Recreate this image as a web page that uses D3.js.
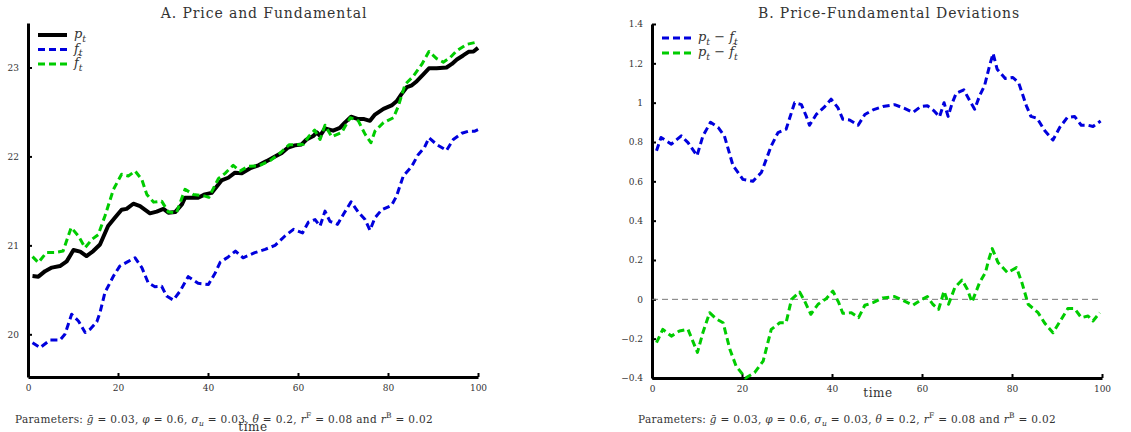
<!DOCTYPE html>
<html>
<head>
<meta charset="utf-8">
<script src="https://cdn.jsdelivr.net/npm/d3@7"></script>
<style>
  body { margin: 0; background: #fff; }
  svg text { font-family: "DejaVu Serif", serif; fill: #333; }
</style>
</head>
<body>
<div id="chart"></div>
<script>
// ---- Panel A: price p_t, fundamental f_t, perceived fundamental fhat_t ----
const priceTime = [1, 2.3, 3.8, 5.3, 7.1, 8.6, 10.1, 11.6, 13, 14.5, 16, 17.8, 19.3, 20.8, 21.9, 23.4, 24.9, 27.1, 28.6, 30.1, 31.2, 32.7, 34.2, 34.9, 37.8, 39.3, 40.8, 43, 44.5, 46, 47.5, 49.3, 51.2, 53, 54.9, 56.4, 57.8, 59.3, 60.8, 61.9, 63.4, 64.2, 64.9, 66, 67.8, 69.3, 70.4, 71.8, 73.4, 74.7, 76, 77.1, 79, 80.8, 81.9, 83, 84.2, 85.3, 86.4, 87.8, 89.1, 90.8, 93, 94.2, 95.3, 96.7, 97.9, 99, 100];
const price = [20.655, 20.648, 20.71, 20.75, 20.767, 20.82, 20.947, 20.93, 20.88, 20.936, 21.01, 21.217, 21.31, 21.4, 21.41, 21.468, 21.44, 21.36, 21.38, 21.41, 21.367, 21.374, 21.46, 21.536, 21.536, 21.573, 21.59, 21.73, 21.76, 21.817, 21.81, 21.865, 21.9, 21.947, 22.0, 22.04, 22.1, 22.124, 22.135, 22.19, 22.23, 22.27, 22.23, 22.315, 22.29, 22.32, 22.38, 22.446, 22.42, 22.42, 22.4, 22.47, 22.535, 22.573, 22.62, 22.7, 22.78, 22.8, 22.846, 22.92, 22.99, 22.99, 23.0, 23.04, 23.09, 23.135, 23.176, 23.18, 23.22];

const fundTime = [1, 2.7, 4.9, 7.1, 8.2, 9.7, 11.2, 12.7, 13.8, 15.3, 16, 17.1, 19, 20.4, 22.3, 23.8, 25.3, 26.7, 28.2, 29.7, 30.8, 32.3, 33.8, 35.6, 37.8, 40.1, 41.6, 42.7, 44.5, 46.1, 47.8, 50.4, 52.7, 54.9, 57.1, 59, 61, 62.3, 63.8, 64.9, 66, 67.1, 68.8, 70.1, 71.8, 73.4, 74.9, 76, 77.1, 78.6, 80.8, 81.9, 83.4, 85.3, 86.7, 88.1, 89.1, 90.8, 93, 94.5, 96.4, 97.9, 99.3, 100];
const fund = [19.906, 19.85, 19.936, 19.936, 20.0, 20.225, 20.15, 20.02, 20.056, 20.14, 20.244, 20.47, 20.655, 20.767, 20.82, 20.86, 20.75, 20.58, 20.535, 20.54, 20.43, 20.385, 20.486, 20.648, 20.573, 20.56, 20.69, 20.81, 20.87, 20.936, 20.86, 20.918, 20.955, 21.0, 21.105, 21.18, 21.14, 21.26, 21.29, 21.217, 21.385, 21.27, 21.236, 21.35, 21.49, 21.374, 21.29, 21.17, 21.31, 21.4, 21.45, 21.554, 21.78, 21.89, 22.02, 22.1, 22.21, 22.135, 22.067, 22.19, 22.26, 22.284, 22.284, 22.3];

const fhatTime = [1, 2.3, 4.1, 6, 7.8, 9.6, 11.2, 12.7, 14.2, 15.6, 17.1, 19, 20.8, 22.3, 23.8, 25.3, 26.4, 27.9, 29.7, 31.2, 33, 34.9, 36.7, 39.3, 40.2, 42.3, 43.8, 45.6, 47.1, 49, 51.3, 53.9, 56, 58, 59.7, 61.2, 62.4, 63.7, 64.9, 66, 67.5, 69.7, 71.6, 73.4, 74.9, 76.2, 77.1, 79, 81.2, 82.3, 83.8, 85.6, 87.5, 89.1, 90.8, 92.3, 93.8, 95.3, 97.5, 99.3, 100];
const fhat = [20.873, 20.806, 20.92, 20.92, 20.936, 21.2, 21.105, 20.974, 21.067, 21.12, 21.33, 21.63, 21.8, 21.78, 21.835, 21.74, 21.573, 21.486, 21.497, 21.374, 21.367, 21.63, 21.573, 21.554, 21.54, 21.75, 21.81, 21.9, 21.835, 21.89, 21.893, 21.956, 22.038, 22.13, 22.131, 22.136, 22.225, 22.296, 22.19, 22.35, 22.22, 22.27, 22.435, 22.4, 22.25, 22.154, 22.284, 22.38, 22.435, 22.565, 22.81, 22.9, 23.034, 23.18, 23.1, 23.06, 23.11, 23.19, 23.26, 23.28, 23.29];

// ---- Panel B: deviations ----
const devFTime = [1, 2, 4.3, 6.5, 8, 10, 11.3, 13, 14.7, 16.1, 18, 20.2, 22.4, 24.3, 26.5, 28, 29.8, 31.7, 33.2, 34.3, 35, 36.5, 38.4, 39.8, 41.3, 42.4, 43.9, 45.8, 47.3, 49.1, 51.3, 53.9, 56, 58, 59.7, 61.2, 62.7, 63.9, 64.9, 65.8, 66.7, 67.6, 69.3, 70.6, 71.7, 72.8, 73.9, 75, 75.8, 76.7, 78.5, 80.2, 81.5, 83.2, 84.2, 85.6, 87.3, 89.1, 90.6, 92.3, 93.9, 95.4, 96.9, 98, 99.7];
const devF = [0.755, 0.823, 0.789, 0.831, 0.797, 0.73, 0.83, 0.9, 0.874, 0.83, 0.68, 0.61, 0.6, 0.645, 0.78, 0.848, 0.865, 1.0, 0.99, 0.93, 0.885, 0.94, 0.98, 1.018, 0.975, 0.916, 0.912, 0.885, 0.94, 0.963, 0.98, 0.99, 0.972, 0.95, 0.98, 0.984, 0.958, 0.928, 1.0, 0.93, 0.997, 1.048, 1.065, 1.01, 0.967, 1.035, 1.086, 1.187, 1.25, 1.17, 1.123, 1.128, 1.1, 0.984, 0.93, 0.92, 0.857, 0.81, 0.874, 0.925, 0.93, 0.885, 0.885, 0.879, 0.907];

const devFhatTime = [1, 2.4, 4.3, 6.1, 8, 10.1, 11.3, 12.8, 14.3, 15.8, 17.3, 18.7, 20.8, 22.8, 24.7, 26.5, 28.4, 29.8, 31, 32.8, 33.9, 35.3, 36.9, 38.7, 40.2, 41.5, 42.4, 44.3, 45.9, 47.3, 49.1, 51.3, 53.9, 56, 58, 59.7, 61.2, 62.4, 63.7, 64.9, 65.9, 67.3, 68.9, 70.1, 71.1, 72.8, 74.1, 74.8, 75.6, 76.9, 79, 81, 82.2, 83.6, 85.8, 87.3, 89.1, 91, 92.4, 93.9, 95.4, 96.9, 98, 99.5];
const devFhat = [-0.22, -0.153, -0.187, -0.161, -0.153, -0.27, -0.17, -0.068, -0.1, -0.119, -0.254, -0.34, -0.4, -0.373, -0.314, -0.153, -0.119, -0.119, 0, 0.037, -0.008, -0.076, -0.025, 0.003, 0.042, -0.017, -0.071, -0.068, -0.093, -0.03, -0.017, 0.007, 0.014, -0.008, -0.03, -0.004, 0.014, -0.025, -0.051, 0.042, -0.025, 0.06, 0.098, 0.05, -0.014, 0.085, 0.136, 0.2, 0.258, 0.187, 0.136, 0.161, 0.085, -0.025, -0.068, -0.122, -0.17, -0.1, -0.047, -0.047, -0.093, -0.085, -0.11, -0.068];

// Tick labels
const timeTicks = [0, 20, 40, 60, 80, 100];
const priceTicks = [20, 21, 22, 23];
const devTicks = [-0.4, -0.2, 0, 0.2, 0.4, 0.6, 0.8, 1, 1.2, 1.4];

const BLUE = "#0000dd";
const GREEN = "#00cc00";

const svg = d3
  .select("#chart")
  .append("svg")
  .attr("width", 1131)
  .attr("height", 432);

// write text made of italic / sub / sup pieces
const richText = (sel, parts) => {
  let shift = 0;
  parts.forEach(([str, kind]) => {
    const small = kind === "sub" || kind === "sup";
    const ts = sel.append("tspan").text(str);
    let target = 0;
    if (kind === "sub") target = 0.28;
    if (kind === "sup") target = -0.45;
    if (small) ts.attr("font-size", "0.72em");
    if (kind === "i" || kind === "sub") ts.attr("font-style", "italic");
    if (target !== shift) {
      ts.attr("dy", `${(target - shift) * (small ? 1 / 0.72 : 1)}em`);
      shift = target;
    }
  });
};

const drawPanel = (p) => {
  const xScale = d3.scaleLinear().domain([0, 100]).range([p.left, p.right]);
  const yScale = d3.scaleLinear().domain(p.yDomain).range([p.bottom, p.top]);
  const g = svg.append("g");

  // title
  g.append("text")
    .attr("x", p.titleX)
    .attr("y", 18)
    .attr("text-anchor", "middle")
    .attr("font-size", 14)
    .attr("letter-spacing", 0.9)
    .text(p.title);

  // axes
  const xAxis = d3
    .axisBottom(xScale)
    .tickValues(timeTicks)
    .tickSizeInner(-4)
    .tickSizeOuter(0)
    .tickPadding(8);
  const yAxis = d3
    .axisLeft(yScale)
    .tickValues(p.yTicks)
    .tickFormat(p.tickFormat)
    .tickSizeInner(-4)
    .tickSizeOuter(0)
    .tickPadding(9);

  const xAxisG = g.append("g").attr("transform", `translate(0, ${p.bottom})`).call(xAxis);
  const yAxisG = g.append("g").attr("transform", `translate(${p.left}, 0)`).call(yAxis);
  [xAxisG, yAxisG].forEach((a) => {
    a.select(".domain").attr("stroke", "#000").attr("stroke-width", 3);
    a.selectAll(".tick line").attr("stroke", "#000").attr("stroke-width", 2);
    a.selectAll(".tick text")
      .attr("font-family", "DejaVu Serif, serif")
      .attr("font-size", 9)
      .attr("fill", "#444");
  });

  // zero line
  if (p.zeroLine) {
    g.append("line")
      .attr("x1", xScale(0))
      .attr("x2", xScale(99.5))
      .attr("y1", yScale(0))
      .attr("y2", yScale(0))
      .attr("stroke", "#777")
      .attr("stroke-width", 1)
      .attr("stroke-dasharray", "6,4");
  }

  // series
  p.series.forEach((s) => {
    const pts = s.t.map((t, i) => [t, s.v[i]]);
    const line = d3
      .line()
      .x((d) => xScale(d[0]))
      .y((d) => yScale(d[1]));
    g.append("path")
      .datum(pts)
      .attr("fill", "none")
      .attr("stroke", s.color)
      .attr("stroke-width", s.width)
      .attr("stroke-linejoin", "round")
      .attr("stroke-dasharray", s.dash || null)
      .attr("d", line);
  });

  // legend
  p.series.forEach((s, i) => {
    const ly = p.legendY + i * p.legendStep;
    g.append("line")
      .attr("x1", p.legendX)
      .attr("x2", p.legendX + 29)
      .attr("y1", ly)
      .attr("y2", ly)
      .attr("stroke", s.color)
      .attr("stroke-width", s.width)
      .attr("stroke-dasharray", s.dash || null);
    const txt = g
      .append("text")
      .attr("x", p.legendX + 36)
      .attr("y", ly + 3)
      .attr("font-size", 13)
      .attr("fill", "#222");
    richText(txt, s.label);
  });

  // x label
  g.append("text")
    .attr("x", p.xLabelX)
    .attr("y", p.xLabelY)
    .attr("text-anchor", "middle")
    .attr("font-size", 12)
    .attr("letter-spacing", 0.6)
    .text("time");

  // parameters note
  const note = g
    .append("text")
    .attr("x", p.noteX)
    .attr("y", 423)
    .attr("font-size", 10.5)
    .attr("letter-spacing", 0.32)
    .attr("fill", "#333");
  richText(note, [
    ["Parameters: "],
    ["g\u0304", "i"],
    [" = 0.03, "],
    ["\u03c6", "i"],
    [" = 0.6, "],
    ["\u03c3", "i"],
    ["u", "sub"],
    [" = 0.03, "],
    ["\u03b8", "i"],
    [" = 0.2, "],
    ["r", "i"],
    ["F", "sup"],
    [" = 0.08 and "],
    ["r", "i"],
    ["B", "sup"],
    [" = 0.02"],
  ]);
};

drawPanel({
  left: 28,
  right: 478,
  top: 23,
  bottom: 377,
  yDomain: [19.52, 23.5],
  yTicks: priceTicks,
  tickFormat: d3.format("d"),
  title: "A. Price and Fundamental",
  titleX: 264,
  legendX: 38,
  legendY: 35,
  legendStep: 14.5,
  xLabelX: 253,
  xLabelY: 431,
  noteX: 15,
  series: [
    { t: priceTime, v: price, color: "#000", width: 4, label: [["p", "i"], ["t", "sub"]] },
    { t: fundTime, v: fund, color: BLUE, width: 3, dash: "7,4", label: [["f", "i"], ["t", "sub"]] },
    { t: fhatTime, v: fhat, color: GREEN, width: 3, dash: "7,4", label: [["f\u0302", "i"], ["t", "sub"]] },
  ],
});

drawPanel({
  left: 652,
  right: 1102,
  top: 24,
  bottom: 378,
  yDomain: [-0.4, 1.4],
  yTicks: devTicks,
  tickFormat: (d) => (d === 0 ? "0" : d3.format("")(+d.toFixed(1))),
  title: "B. Price-Fundamental Deviations",
  titleX: 889,
  legendX: 662,
  legendY: 38,
  legendStep: 15,
  xLabelX: 878,
  xLabelY: 397,
  noteX: 638,
  zeroLine: true,
  series: [
    { t: devFTime, v: devF, color: BLUE, width: 3, dash: "7,4", label: [["p", "i"], ["t", "sub"], [" \u2212 "], ["f", "i"], ["t", "sub"]] },
    { t: devFhatTime, v: devFhat, color: GREEN, width: 3, dash: "7,4", label: [["p", "i"], ["t", "sub"], [" \u2212 "], ["f\u0302", "i"], ["t", "sub"]] },
  ],
});
</script>
</body>
</html>
